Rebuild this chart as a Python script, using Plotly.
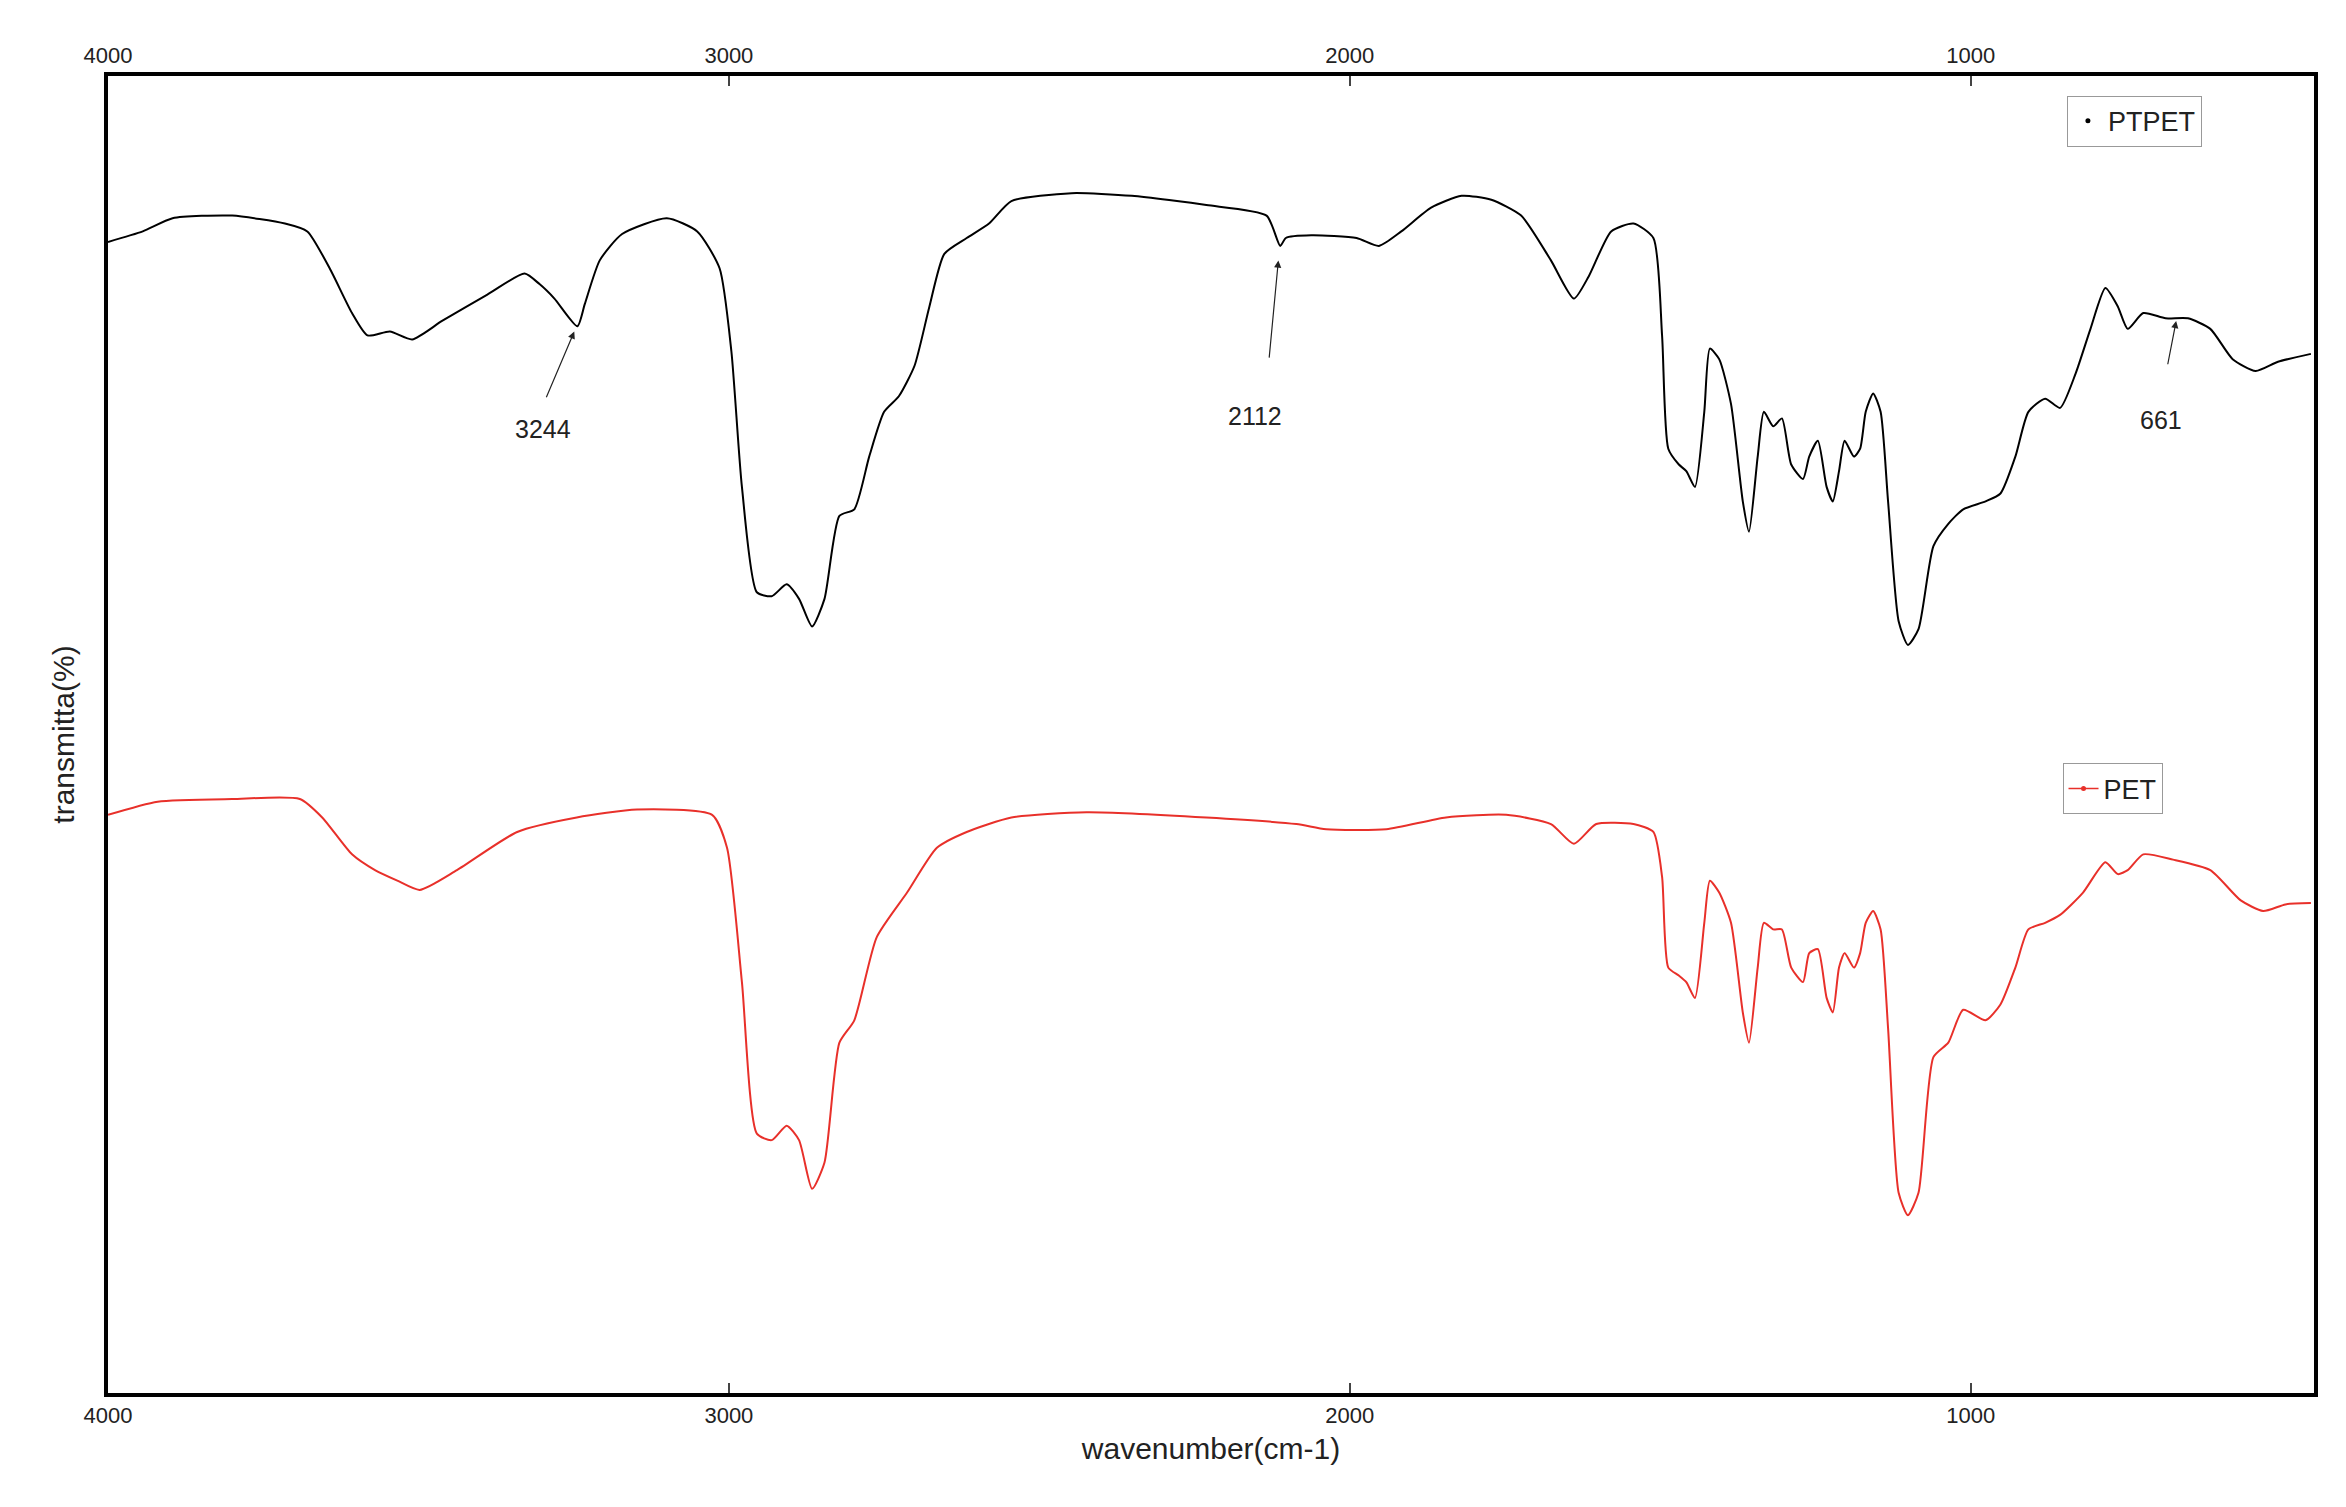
import plotly.graph_objects as go

ptpet_wn = [4000,3944,3896,3800,3715,3679,3643,3607,3582,3546,3510,3462,3389,3329,3305,3281,3244,3232,3208,3172,
            3100,3051,3015,2996,2979,2955,2931,2907,2887,2866,2846,2822,2798,2774,2750,2726,2701,2677,2653,2617,
            2581,2545,2448,2351,2231,2134,2112,2103,2062,1989,1953,1917,1869,1820,1772,1724,1676,1639,1615,1579,
            1543,1511,1497,1487,1470,1458,1444,1429,1420,1405,1386,1367,1357,1343,1333,1318,1304,1289,1270,1260,
            1246,1232,1222,1212,1203,1188,1178,1169,1157,1145,1133,1116,1101,1084,1060,1036,1012,976,952,928,
            907,880,856,831,807,783,763,747,722,686,650,614,578,541,505,452]
ptpet_t = [87.4,88.2,89.2,89.4,88.8,88.2,85.4,82.0,80.3,80.6,80.0,81.4,83.4,85.0,84.2,83.1,81.0,82.7,86.0,88.0,
           89.2,88.2,85.4,79.1,68.8,60.8,60.5,61.4,60.3,58.2,60.3,66.6,67.1,71.1,74.5,75.7,78.0,82.5,86.5,87.7,
           88.8,90.5,91.1,90.9,90.2,89.4,87.1,87.7,87.9,87.7,87.1,88.2,90.0,90.9,90.6,89.4,86.0,83.1,84.8,88.2,
           88.8,87.7,80.3,71.7,70.5,70.0,68.8,74.5,79.3,78.5,75.1,67.7,65.4,71.1,74.5,73.4,74.0,70.5,69.4,71.1,
           72.3,68.8,67.7,70.0,72.3,71.1,71.7,74.5,75.9,74.5,67.7,58.6,56.8,58.0,64.3,66.0,67.1,67.7,68.3,71.1,
           74.5,75.5,74.8,77.4,80.8,83.9,82.5,80.8,82.0,81.6,81.6,80.8,78.5,77.6,78.3,78.9]

pet_wn = [4000,3920,3800,3691,3655,3607,3570,3534,3498,3438,3341,3245,3148,3027,3003,2979,2955,2931,2907,2887,
          2866,2846,2822,2798,2762,2713,2665,2617,2545,2424,2231,2086,2038,1941,1845,1748,1676,1639,1603,1543,
          1511,1497,1487,1470,1458,1444,1429,1420,1405,1386,1367,1357,1343,1333,1318,1304,1289,1270,1260,1246,
          1232,1222,1212,1203,1188,1178,1169,1157,1145,1133,1116,1101,1084,1060,1036,1012,976,952,928,907,
          880,856,819,783,763,747,722,674,614,565,529,493,452]
pet_t = [43.9,44.9,45.1,45.1,43.7,40.9,39.7,38.9,38.2,39.7,42.6,43.7,44.3,43.9,41.4,31.2,19.7,19.2,20.3,19.2,
         15.5,17.5,26.6,28.3,34.6,38.0,41.4,42.6,43.7,44.1,43.7,43.2,42.8,42.8,43.7,43.9,43.2,41.7,43.2,43.2,
         42.6,39.2,32.3,31.7,31.2,30.0,35.7,38.9,38.0,35.7,28.9,26.6,32.3,35.7,35.2,35.2,32.3,31.2,33.4,33.7,
         30.0,28.9,32.3,33.4,32.3,33.4,35.7,36.6,35.2,27.7,15.2,13.5,15.2,25.5,26.6,29.1,28.3,29.5,32.3,35.2,
         35.7,36.3,38.0,40.3,39.4,39.7,40.9,40.5,39.7,37.4,36.6,37.1,37.2]

peak_labels = ["3244", "2112", "661"]
peak_head_wn = [3249, 2115, 669]
peak_head_t = [80.6, 86.0, 81.4]
peak_tail_wn = [3295, 2130, 683]
peak_tail_t = [75.5, 78.5, 78.0]
peak_text_wn = [3300, 2152, 693]
peak_text_t = [73.2, 74.2, 73.9]

xticks = [4000, 3000, 2000, 1000]
xrange_ = [4000, 447]
FONT = "Liberation Sans, Arial, sans-serif"

fig = go.Figure()
fig.add_trace(go.Scatter(x=ptpet_wn, y=ptpet_t, mode="lines", line=dict(color="black", width=2, shape="spline", smoothing=0.6), showlegend=False))
fig.add_trace(go.Scatter(x=pet_wn, y=pet_t, mode="lines", line=dict(color="#e8302a", width=2, shape="spline", smoothing=0.6), showlegend=False))
fig.add_trace(go.Scatter(x=[None], y=[None], mode="markers", name="PTPET", marker=dict(color="black", size=5), legend="legend"))
fig.add_trace(go.Scatter(x=[None], y=[None], mode="lines+markers", name="PET", line=dict(color="#e8302a", width=1.5), marker=dict(color="#e8302a", size=5), legend="legend2"))
fig.add_trace(go.Scatter(x=[None], y=[None], xaxis="x2", showlegend=False))

for i, lab in enumerate(peak_labels):
    fig.add_annotation(x=peak_head_wn[i], y=peak_head_t[i], ax=peak_tail_wn[i], ay=peak_tail_t[i],
                       axref="x", ayref="y", xref="x", yref="y", text="", showarrow=True,
                       arrowhead=2, arrowsize=1.2, arrowwidth=1.2, arrowcolor="#222")
    fig.add_annotation(x=peak_text_wn[i], y=peak_text_t[i], text=lab, showarrow=False,
                       font=dict(size=25, color="#222", family=FONT))

axis_common = dict(range=xrange_, tickvals=xticks, ticks="inside", ticklen=10, tickwidth=2,
                   tickfont=dict(size=22, color="#222", family=FONT), showgrid=False, zeroline=False,
                   showline=True, linecolor="black", linewidth=4)
fig.update_layout(
    width=2346, height=1507, plot_bgcolor="white", paper_bgcolor="white",
    margin=dict(l=100, r=40, t=68, b=122),
    xaxis=dict(**axis_common, side="bottom", mirror=True,
               title=dict(text="wavenumber(cm-1)", font=dict(size=30, color="#222", family=FONT), standoff=12)),
    xaxis2=dict(**axis_common, side="top", overlaying="x", anchor="y"),
    yaxis=dict(range=[0, 100], showticklabels=False, ticks="", showgrid=False, zeroline=False,
               showline=True, linecolor="black", linewidth=4, mirror=True,
               title=dict(text="transmitta(%)", font=dict(size=30, color="#222", family=FONT), standoff=22)),
    legend=dict(x=0.888, y=0.985, xanchor="left", yanchor="top", bgcolor="white", bordercolor="#999", borderwidth=1,
                font=dict(size=27, color="#222", family=FONT)),
    legend2=dict(x=0.886, y=0.478, xanchor="left", yanchor="top", bgcolor="white", bordercolor="#999", borderwidth=1,
                 font=dict(size=27, color="#222", family=FONT)),
)
fig.write_html("out.html")
